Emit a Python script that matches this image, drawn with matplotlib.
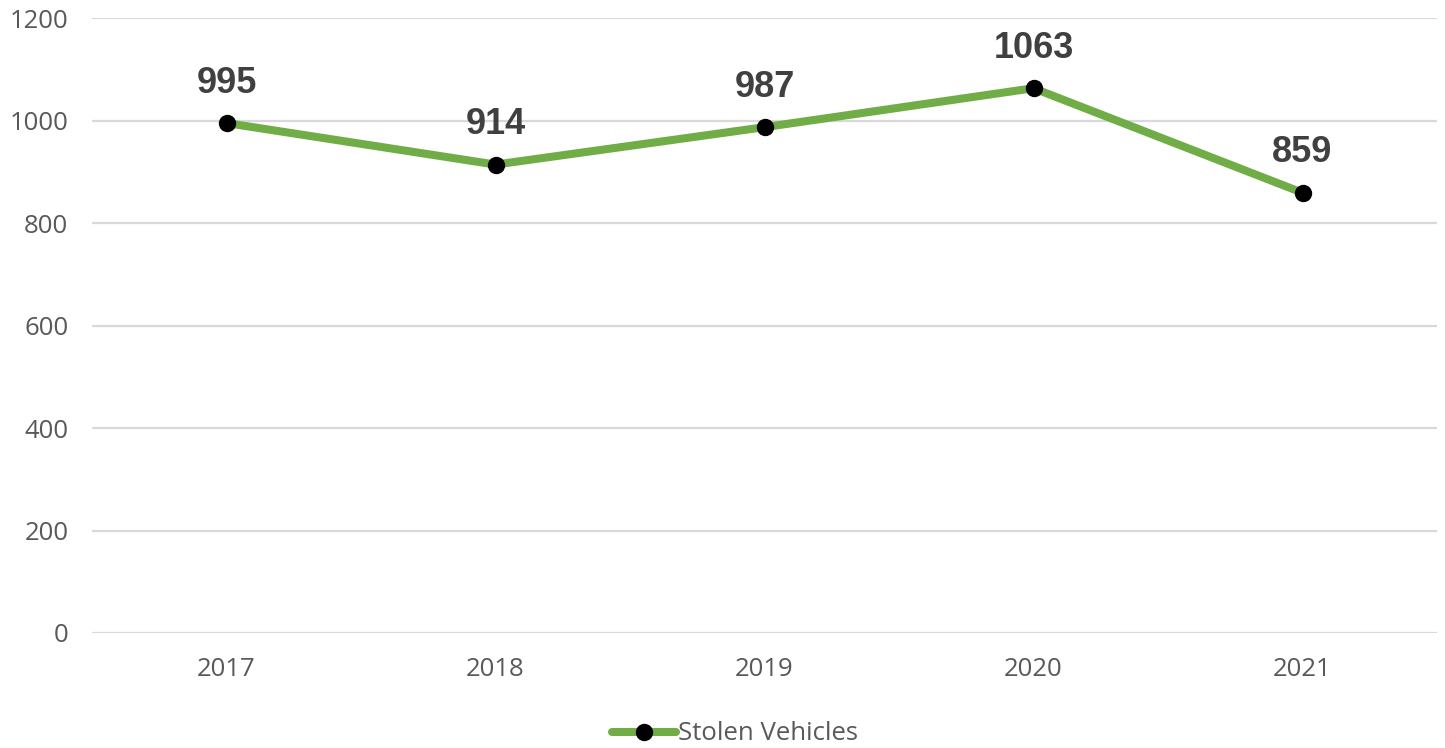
import matplotlib
matplotlib.use("Agg")
import matplotlib.pyplot as plt

years = ["2017", "2018", "2019", "2020", "2021"]
stolen = [995, 914, 987, 1063, 859]
yticks = [0, 200, 400, 600, 800, 1000, 1200]

fig = plt.figure(figsize=(14.45, 7.48), dpi=100)
ax = fig.add_axes([92/1445, 1-633/748, (1437-92)/1445, (633-18)/748])

x = list(range(len(years)))
ax.plot(x, stolen, color="#70AD47", linewidth=5.8, marker="o", markersize=11.5,
        markerfacecolor="black", markeredgecolor="black", label="Stolen Vehicles",
        solid_capstyle="round", zorder=3)

for xi, v in zip(x, stolen):
    ax.annotate(str(v), (xi, v), xytext=(0, 22), textcoords="offset points",
                ha="center", va="baseline", fontsize=26, fontweight="bold",
                color="#404040", family="Liberation Sans")

ax.set_xlim(-0.5, len(years) - 0.5)
ax.set_ylim(0, 1200)
ax.set_yticks(yticks)
ax.set_xticks(x)
ax.set_xticklabels(years)
ax.grid(axis="y", color="#D9D9D9", linewidth=1.6)
ax.set_axisbelow(True)
for s in ax.spines.values():
    s.set_visible(False)
ax.tick_params(axis="both", length=0, labelsize=18.5, labelcolor="#595959")
ax.tick_params(axis="y", pad=17)
ax.tick_params(axis="x", pad=17)
for lbl in ax.get_xticklabels() + ax.get_yticklabels():
    lbl.set_family("Open Sans")

leg = fig.legend(loc="center", bbox_to_anchor=(735/1445, 1-734/748), frameon=False,
                 prop={"family": "Open Sans", "size": 18.5}, handlelength=2.5,
                 handletextpad=0.1)
for t in leg.get_texts():
    t.set_color("#595959")

fig.savefig("out.png", dpi=100)
